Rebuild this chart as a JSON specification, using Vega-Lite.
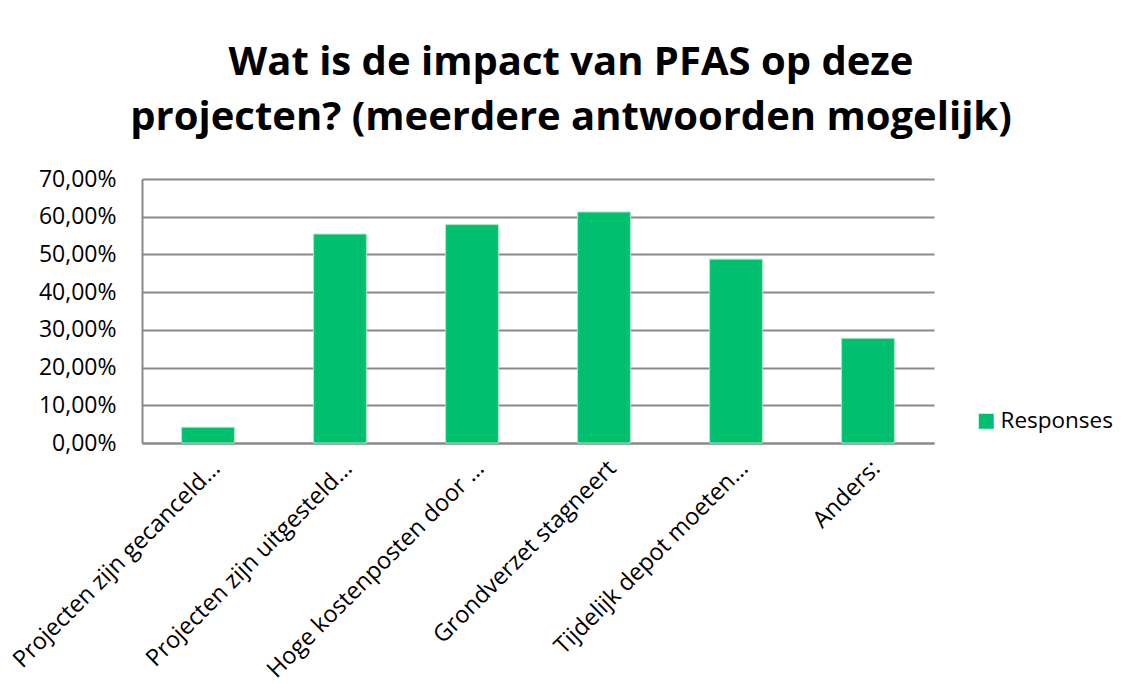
{
  "$schema": "https://vega.github.io/schema/vega-lite/v6.json",
  "autosize": "none",
  "width": 792,
  "height": 264,
  "padding": {"left": 142, "top": 179, "right": 196, "bottom": 241},
  "background": "white",
  "title": {
    "text": ["Wat is de impact van PFAS op deze", "projecten? (meerdere antwoorden mogelijk)"],
    "font": "Open Sans",
    "fontSize": 40,
    "fontWeight": "bold",
    "color": "#000000",
    "anchor": "middle",
    "dx": 33,
    "lineHeight": 55,
    "offset": 30
  },
  "data": {
    "values": [
      {"antwoord": "Projecten zijn gecanceld…", "serie": "Responses", "waarde": 0.0417},
      {"antwoord": "Projecten zijn uitgesteld…", "serie": "Responses", "waarde": 0.554},
      {"antwoord": "Hoge kostenposten door …", "serie": "Responses", "waarde": 0.579},
      {"antwoord": "Grondverzet stagneert", "serie": "Responses", "waarde": 0.6125},
      {"antwoord": "Tijdelijk depot moeten…", "serie": "Responses", "waarde": 0.4875},
      {"antwoord": "Anders:", "serie": "Responses", "waarde": 0.2775}
    ]
  },
  "mark": {"type": "bar", "stroke": "#a6e6c6", "strokeWidth": 1},
  "encoding": {
    "x": {
      "field": "antwoord",
      "type": "nominal",
      "sort": null,
      "title": null,
      "scale": {"paddingInner": 0.6, "paddingOuter": 0.3},
      "axis": {
        "labelAngle": -45,
        "labelFont": "Open Sans",
        "labelFontSize": 23.5,
        "labelColor": "#000000",
        "labelLimit": 0,
        "ticks": false,
        "domainColor": "#898989",
        "domainWidth": 2,
        "labelPadding": 13,
        "labelDx": 5
      }
    },
    "y": {
      "field": "waarde",
      "type": "quantitative",
      "title": null,
      "scale": {"domain": [0, 0.7], "nice": false},
      "axis": {
        "values": [0, 0.1, 0.2, 0.3, 0.4, 0.5, 0.6, 0.7],
        "labelExpr": "replace(format(datum.value, '.2%'), '.', ',')",
        "labelFont": "Open Sans",
        "labelFontSize": 23,
        "labelColor": "#000000",
        "ticks": false,
        "labelPadding": 26,
        "grid": true,
        "gridColor": "#898989",
        "gridWidth": 2,
        "domainColor": "#898989",
        "domainWidth": 2
      }
    },
    "color": {
      "field": "serie",
      "type": "nominal",
      "title": null,
      "scale": {"range": ["#00bf6f"]},
      "legend": {
        "orient": "none",
        "legendX": 833,
        "legendY": 231,
        "symbolType": "square",
        "symbolSize": 225,
        "symbolStrokeWidth": 0,
        "labelFont": "Open Sans",
        "labelFontSize": 22.5,
        "labelColor": "#000000",
        "labelOffset": 3
      }
    }
  },
  "config": {"view": {"stroke": null}}
}
